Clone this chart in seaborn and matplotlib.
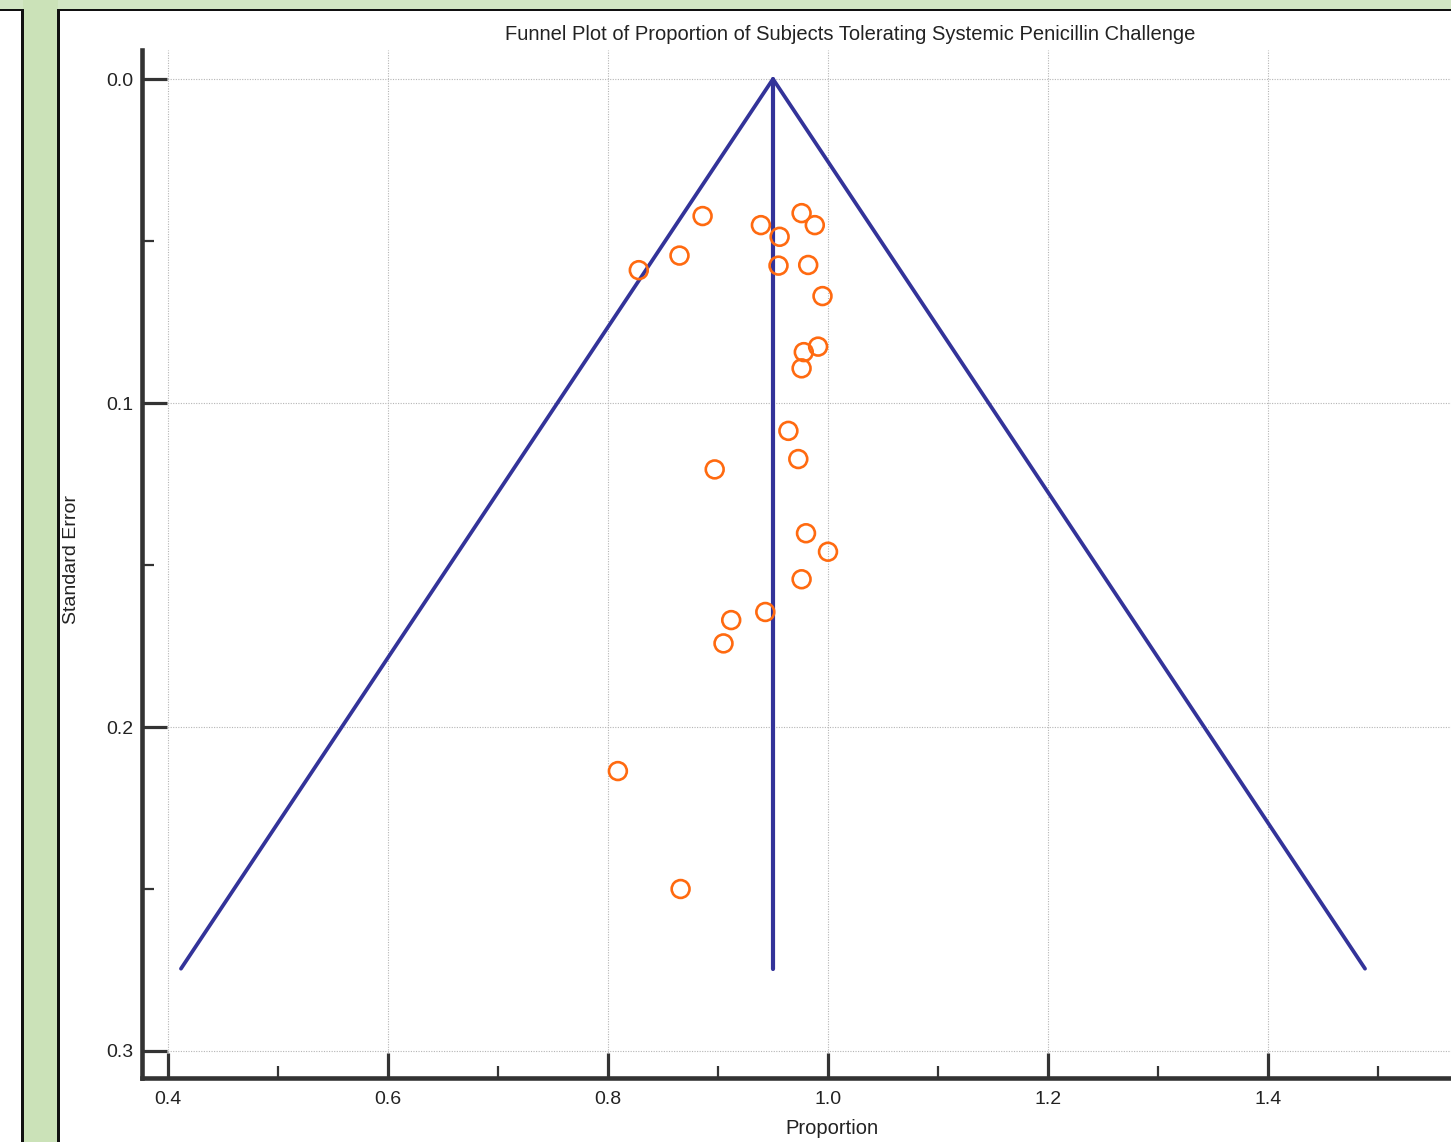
import numpy as np
import pandas as pd
import matplotlib
matplotlib.use("Agg")
import matplotlib.pyplot as plt
from matplotlib.patches import Rectangle
from matplotlib.ticker import MultipleLocator
import seaborn as sns

# ── Study data (proportion tolerating, standard error) ───────
proportion = [0.886, 0.976, 0.939, 0.988, 0.956, 0.865, 0.828, 0.955,
              0.982, 0.995, 0.991, 0.978, 0.976, 0.964, 0.897, 0.973,
              0.980, 1.000, 0.976, 0.943, 0.912, 0.905, 0.809, 0.866]
std_error = [0.0423, 0.0414, 0.0451, 0.0451, 0.0487, 0.0545, 0.0590, 0.0576,
             0.0574, 0.0670, 0.0826, 0.0843, 0.0893, 0.1086, 0.1205, 0.1173,
             0.1402, 0.1459, 0.1544, 0.1645, 0.1670, 0.1742, 0.2136, 0.2500]

pooled = 0.95       # summary proportion
se_max = 0.2746     # funnel drawn down to this SE
z = 1.96

df = pd.DataFrame({"Proportion": proportion, "Standard Error": std_error})

# ── Figure ───────────────────────────────────────────────────
W, H = 1451, 1142
sns.set_theme(style="white")
plt.rcParams["font.family"] = ["Liberation Sans", "DejaVu Sans"]

fig = plt.figure(figsize=(W / 100, H / 100), dpi=100)


def px_rect(x0, y0, x1, y1, color):
    # rectangle given in screen pixels (origin top-left)
    fig.patches.append(Rectangle((x0 / W, 1 - y1 / H), (x1 - x0) / W, (y1 - y0) / H,
                                 transform=fig.transFigure, facecolor=color,
                                 edgecolor="none", zorder=0))


# window frame around the chart
px_rect(0, 0, W, 10, "#d2e6c4")
px_rect(0, 9, W, 11, "#111111")
px_rect(23, 0, 58, H, "#cbe2b8")
px_rect(21, 9, 24, H, "#111111")
px_rect(57, 9, 60, H, "#111111")

left, right, top, bottom = 142, W, 50, 1078
ax = fig.add_axes([left / W, 1 - bottom / H, (right - left) / W, (bottom - top) / H])
ax.set_facecolor("white")

# funnel
ax.plot([pooled - z * se_max, pooled, pooled + z * se_max], [se_max, 0, se_max],
        color="#333399", lw=2.7, zorder=2)
ax.plot([pooled, pooled], [0, se_max], color="#333399", lw=3.0, zorder=2)

sns.scatterplot(data=df, x="Proportion", y="Standard Error", ax=ax,
                marker="o", s=165, facecolor="none", edgecolor="#ff6a10",
                linewidth=1.9, zorder=3)

ax.set_xlim(0.4 - 26 / 1100, 0.4 + (right - 168) / 1100)
ax.set_ylim(0.3 + 27 / 3240, -29 / 3240)

ax.xaxis.set_minor_locator(MultipleLocator(0.1))
ax.yaxis.set_minor_locator(MultipleLocator(0.05))
ax.set_xticks([0.4, 0.6, 0.8, 1.0, 1.2, 1.4])
ax.set_xticklabels(["0.4", "0.6", "0.8", "1.0", "1.2", "1.4"])
ax.set_yticks([0.0, 0.1, 0.2, 0.3])
ax.set_yticklabels(["0.0", "0.1", "0.2", "0.3"])

ax.grid(True, which="major", color="#b5b5b5", linestyle=(0, (1, 1.3)), lw=0.8)
ax.grid(False, which="minor")
ax.set_axisbelow(True)

for s in ["top", "right"]:
    ax.spines[s].set_visible(False)
for s in ["left", "bottom"]:
    ax.spines[s].set_color("#333333")
    ax.spines[s].set_linewidth(3.3)

ax.tick_params(which="both", bottom=True, left=True, top=False, right=False)
ax.tick_params(which="major", direction="in", length=18, width=2.3,
               color="#333333", labelsize=14, labelcolor="#222222")
ax.tick_params(which="minor", direction="in", length=8.5, width=1.6, color="#333333")
ax.tick_params(axis="x", which="major", pad=9)
ax.tick_params(axis="y", which="major", pad=6)

ax.set_xlabel("")
ax.set_ylabel("")

fig.text(850 / W, 1 - 34 / H, "Funnel Plot of Proportion of Subjects Tolerating Systemic Penicillin Challenge",
         ha="center", va="center", fontsize=14.5, color="#222222")
fig.text(832 / W, 1 - 1129 / H, "Proportion", ha="center", va="center",
         fontsize=14.5, color="#222222")
fig.text(72 / W, 1 - 560 / H, "Standard Error", ha="center", va="center",
         rotation=90, fontsize=14, color="#222222")

fig.savefig("out.png", dpi=100)
